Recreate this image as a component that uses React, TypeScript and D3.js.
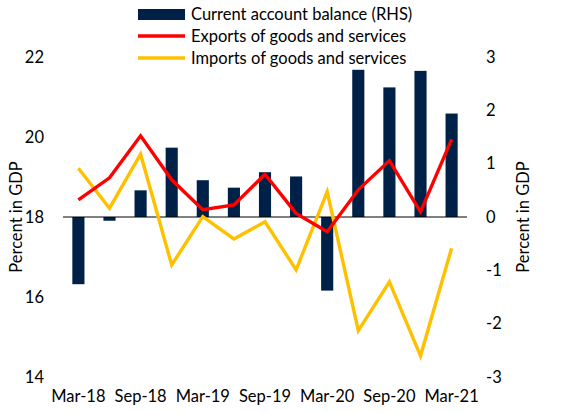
import React, { useEffect, useRef } from 'react';
import * as d3 from 'd3';

const quarters = ['Mar-18', 'Jun-18', 'Sep-18', 'Dec-18', 'Mar-19', 'Jun-19', 'Sep-19', 'Dec-19',
  'Mar-20', 'Jun-20', 'Sep-20', 'Dec-20', 'Mar-21'];
const tickQuarters = ['Mar-18', 'Sep-18', 'Mar-19', 'Sep-19', 'Mar-20', 'Sep-20', 'Mar-21'];
const currentAccount = [-1.26, -0.07, 0.5, 1.3, 0.69, 0.55, 0.84, 0.76, -1.38, 2.76, 2.43, 2.74, 1.94];
const exportsGs = [18.43, 18.98, 20.03, 18.93, 18.18, 18.3, 19.07, 18.09, 17.63, 18.68, 19.41, 18.13, 19.94];
const importsGs = [19.22, 18.22, 19.57, 16.8, 18.01, 17.45, 17.88, 16.68, 18.63, 15.16, 16.38, 14.53, 17.22];
const leftTicks = [14, 16, 18, 20, 22];
const rightTicks = [-3, -2, -1, 0, 1, 2, 3];

const W = 568, H = 413;
const font = 'Lato, sans-serif';
const fs = 16.5;

export default function App() {
  const ref = useRef<SVGSVGElement>(null);

  useEffect(() => {
    const svg = d3.select(ref.current);
    svg.selectAll('*').remove();

    const margin = { top: 57, right: 101, bottom: 36, left: 63 };

    const x = d3.scaleBand()
      .domain(quarters)
      .range([margin.left, W - margin.right])
      .paddingInner(0.61)
      .paddingOuter(0.3);
    const cx = (q: string) => (x(q) as number) + x.bandwidth() / 2;

    const yL = d3.scaleLinear().domain([14, 22]).range([H - margin.bottom, margin.top]);
    const yR = d3.scaleLinear().domain([-3, 3]).range([H - margin.bottom, margin.top]);

    // bars
    svg.append('g')
      .attr('fill', '#002147')
      .selectAll('rect').data(currentAccount).enter().append('rect')
      .attr('x', (d, i) => x(quarters[i]) as number)
      .attr('y', d => yR(Math.max(0, d)))
      .attr('width', x.bandwidth())
      .attr('height', d => Math.abs(yR(d) - yR(0)));

    // zero line
    svg.append('line')
      .attr('x1', margin.left).attr('x2', W - margin.right)
      .attr('y1', yR(0)).attr('y2', yR(0))
      .attr('stroke', '#000').attr('stroke-width', 1);

    const line = d3.line<number>()
      .x((d, i) => cx(quarters[i]))
      .y(d => yL(d));

    svg.append('path').datum(importsGs)
      .attr('d', line).attr('fill', 'none')
      .attr('stroke', '#FFC000').attr('stroke-width', 3.4);
    svg.append('path').datum(exportsGs)
      .attr('d', line).attr('fill', 'none')
      .attr('stroke', '#FF0000').attr('stroke-width', 3.4);

    // axes
    const leftAxis = svg.append('g')
      .attr('transform', `translate(${margin.left - 16},0)`)
      .call(d3.axisLeft(yL).tickValues(leftTicks).tickSize(0).tickFormat(d3.format('d')));
    leftAxis.select('.domain').remove();

    const rightAxis = svg.append('g')
      .attr('transform', `translate(${W - margin.right + 16},0)`)
      .call(d3.axisRight(yR).tickValues(rightTicks).tickSize(0).tickFormat(d => String(d)));
    rightAxis.select('.domain').remove();

    const bottomAxis = svg.append('g')
      .attr('transform', `translate(0,${H - margin.bottom + 10})`)
      .call(d3.axisBottom(x).tickValues(tickQuarters).tickSize(0));
    bottomAxis.select('.domain').remove();

    svg.selectAll('.tick text')
      .attr('font-family', font).attr('font-size', fs).attr('fill', '#000');

    // axis titles
    svg.append('text')
      .attr('transform', `translate(22,${yL(18)}) rotate(-90)`)
      .attr('text-anchor', 'middle')
      .attr('font-family', font).attr('font-size', fs)
      .text('Percent in GDP');
    svg.append('text')
      .attr('transform', `translate(529,${yL(18)}) rotate(-90)`)
      .attr('text-anchor', 'middle')
      .attr('font-family', font).attr('font-size', fs)
      .text('Percent in GDP');

    // legend
    const legend = [
      { label: 'Current account balance (RHS)', color: '#002147', kind: 'bar' },
      { label: 'Exports of goods and services', color: '#FF0000', kind: 'line' },
      { label: 'Imports of goods and services', color: '#FFC000', kind: 'line' },
    ];
    const lg = svg.append('g');
    legend.forEach((l, i) => {
      const yy = 14 + i * 22;
      if (l.kind === 'bar') {
        lg.append('rect').attr('x', 138).attr('y', yy - 5).attr('width', 47).attr('height', 11).attr('fill', l.color);
      } else {
        lg.append('line').attr('x1', 138).attr('x2', 185).attr('y1', yy).attr('y2', yy)
          .attr('stroke', l.color).attr('stroke-width', 3.4);
      }
      lg.append('text').attr('x', 191).attr('y', yy).attr('dy', '0.35em')
        .attr('font-family', font).attr('font-size', fs).text(l.label);
    });
  }, []);

  return (
    <svg ref={ref} width={W} height={H} style={{ position: 'absolute', left: 0, top: 0, background: '#fff' }} />
  );
}
